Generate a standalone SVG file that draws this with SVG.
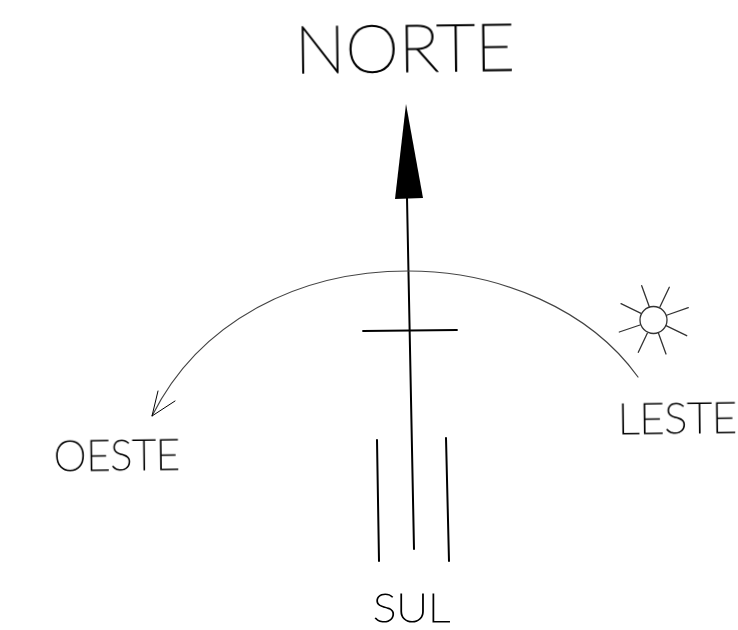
<svg xmlns="http://www.w3.org/2000/svg" width="738" height="630" viewBox="0 0 738 630">
<defs><filter id="g" x="-5%" y="-20%" width="110%" height="140%" color-interpolation-filters="sRGB"><feOffset dx="0" dy="0"/></filter></defs>
<style>
.t{font-family:"Lato","Liberation Sans",sans-serif;font-weight:100;fill:#000;stroke:#000;filter:url(#g)}
.b{stroke-width:1.3}
.m{stroke-width:1.1}
.c{fill:none;stroke:#000;stroke-linecap:round}
.s{fill:none;stroke:#333;stroke-width:1.3;stroke-linecap:round}
</style>
<rect width="738" height="630" fill="#fff"/>
<g id="connectors">
<path class="c" stroke-width="2" d="M407 198L414 549"/>
<path d="M406 104L395 199L423 198Z" fill="#000"/>
<path class="c" stroke-width="1.8" d="M363 331L457 330"/>
<path class="c" stroke-width="2" d="M377 440L379 561M446 438L449 561"/>
<path class="c" style="stroke:#444" stroke-width="1.2" d="M638 377C590 310 500 271 408 271C300 271 200 320 152 416"/>
<path class="c" stroke-width="1" d="M158 391L152 416L175 401"/>
</g>
<g id="sun">
<circle cx="653.5" cy="320" r="13.5" class="s"/>
<path class="s" d="M641.7 285.7L649.3 306.7M669.3 287.3L660 306.7M688.3 307.7L667.3 315M686.7 335.7L666 325.7M666 354L658.3 332.7M638.3 352.3L647.3 333.3M619.3 332L640 325M621 303.7L641 313.3"/>
</g>
<g id="norte"><text class="t b" x="295" y="73" font-size="65" textLength="220" lengthAdjust="spacingAndGlyphs" transform="rotate(-.7 295 73)">NORTE</text></g>
<g id="leste"><text class="t m" x="618" y="434" font-size="41" textLength="119" lengthAdjust="spacingAndGlyphs" transform="rotate(-.7 618 434)">LESTE</text></g>
<g id="oeste"><text class="t m" x="54" y="471" font-size="41" textLength="126" lengthAdjust="spacingAndGlyphs" transform="rotate(-.7 54 471)">OESTE</text></g>
<g id="sul"><text class="t m" x="373" y="622" font-size="39" textLength="77" lengthAdjust="spacingAndGlyphs">SUL</text></g>
</svg>
